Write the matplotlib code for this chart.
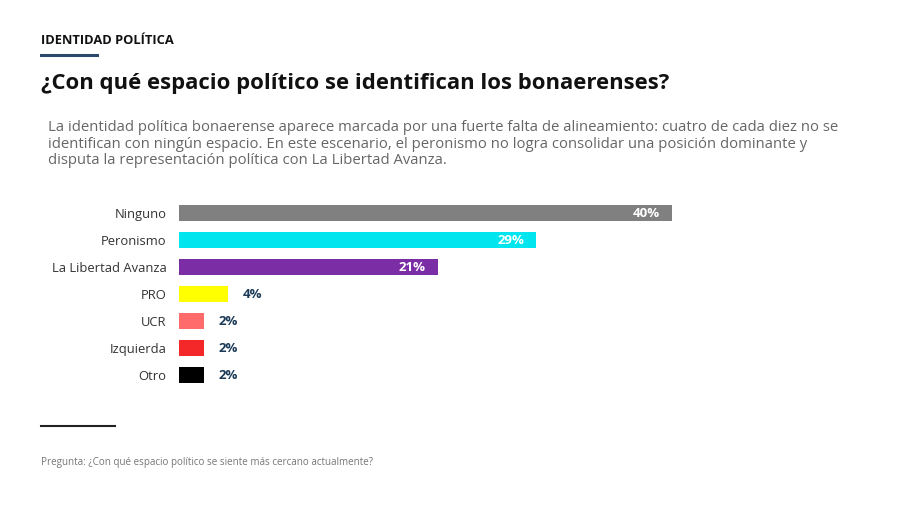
import matplotlib.pyplot as plt
from matplotlib.lines import Line2D

categories = ['Ninguno', 'Peronismo', 'La Libertad Avanza', 'PRO', 'UCR', 'Izquierda', 'Otro']
values = [40, 29, 21, 4, 2, 2, 2]
colors = ['#808080', '#00E5EE', '#7B2DA6', '#FFFF00', '#FF6B6B', '#F42828', '#000000']

plt.rcParams['font.family'] = ['Open Sans', 'DejaVu Sans']

fig = plt.figure(figsize=(9, 5.05), dpi=100)
fig.patch.set_facecolor('white')

ax = fig.add_axes([179 / 900, 1 - 388.5 / 505, 616 / 900, 189 / 505])
y = list(range(len(categories)))
ax.barh(y, values, height=0.6, color=colors)
ax.set_xlim(0, 50)
ax.set_ylim(len(categories) - 0.5, -0.5)
ax.set_yticks(y)
ax.set_yticklabels(categories, fontsize=9.4, color='#333333')
ax.tick_params(axis='y', length=0, pad=9)
ax.set_xticks([])
for s in ax.spines.values():
    s.set_visible(False)

for i, v in enumerate(values):
    if v >= 10:
        ax.text(v - 1.0, i, f'{v}%', ha='right', va='center', color='white',
                fontsize=9.5, fontweight='bold')
    else:
        ax.text(v + 1.2, i, f'{v}%', ha='left', va='center', color='#1B3A57',
                fontsize=9.5, fontweight='bold')

fig.text(41 / 900, 1 - 40 / 505, 'IDENTIDAD POLÍTICA', fontsize=9.3, fontweight='bold',
         color='#111111', va='center')
fig.add_artist(Line2D([41 / 900, 97 / 900], [1 - 55 / 505] * 2, color='#2B4A6B', lw=2.2))
fig.text(41 / 900, 1 - 83 / 505, '¿Con qué espacio político se identifican los bonaerenses?',
         fontsize=15.9, fontweight='bold', color='#111111', va='center')
fig.text(48 / 900, 1 - 144 / 505,
         'La identidad política bonaerense aparece marcada por una fuerte falta de alineamiento: cuatro de cada diez no se\n'
         'identifican con ningún espacio. En este escenario, el peronismo no logra consolidar una posición dominante y\n'
         'disputa la representación política con La Libertad Avanza.',
         fontsize=10.75, color='#666666', va='center', linespacing=1.17)
fig.add_artist(Line2D([41 / 900, 115 / 900], [1 - 426 / 505] * 2, color='#222222', lw=1.5))
fig.text(41 / 900, 1 - 463 / 505, 'Pregunta: ¿Con qué espacio político se siente más cercano actualmente?',
         fontsize=7.1, color='#777777', va='center')

fig.savefig('out.png', dpi=100, facecolor='white')
